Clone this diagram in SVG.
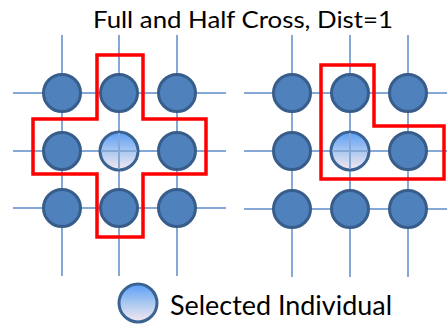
<svg xmlns="http://www.w3.org/2000/svg" width="447" height="325" viewBox="0 0 447 325">
  <defs>
    <linearGradient id="selGrad" x1="0" y1="0" x2="0" y2="1">
      <stop offset="0" stop-color="#5a9df8"/>
      <stop offset="0.5" stop-color="#a9c8f0"/>
      <stop offset="1" stop-color="#f6e8f0"/>
    </linearGradient>
    <circle id="dot" r="18.5" class="dot"/>
  </defs>
  <style>
    .grid { stroke: #86a8d6; stroke-width: 2; fill: none; }
    .dot { fill: #4f81bd; stroke: #385d8a; stroke-width: 3; }
    .sel { fill: url(#selGrad); stroke: #3a6391; stroke-width: 3; }
    .region { fill: none; stroke: #ff0000; stroke-width: 3.5; stroke-linejoin: miter; }
    .label { font-family: Lato, "Open Sans", "Liberation Sans", sans-serif; fill: #000; }
  </style>
  <rect width="447" height="325" fill="#ffffff"/>

  <text class="label" x="93" y="28" font-size="22.5" textLength="300" lengthAdjust="spacingAndGlyphs">Full and Half Cross, Dist=1</text>

  <!-- grid lines -->
  <g id="connectors">
    <path class="grid" d="M62 35V276M119 35V276M177 35V276M13 93H226M13 151H226M13 208H226"/>
    <path class="grid" d="M292 35V277M350 35V277M408 35V277M244 93H447M244 151H447M244 209H447"/>
  </g>

  <!-- left lattice: full cross -->
  <g id="left-grid">
    <g id="L11"><use href="#dot" x="62" y="93"/></g>
    <g id="L12"><use href="#dot" x="119" y="93"/></g>
    <g id="L13"><use href="#dot" x="177" y="93"/></g>
    <g id="L21"><use href="#dot" x="62" y="151"/></g>
    <g id="L22"><circle class="sel" cx="119" cy="151" r="19"/><path class="grid" d="M119 133V169M101 151H137"/></g>
    <g id="L23"><use href="#dot" x="177" y="151"/></g>
    <g id="L31"><use href="#dot" x="62" y="208"/></g>
    <g id="L32"><use href="#dot" x="119" y="208"/></g>
    <g id="L33"><use href="#dot" x="177" y="208"/></g>
  </g>

  <!-- right lattice: half cross -->
  <g id="right-grid">
    <g id="R11"><use href="#dot" x="292" y="93"/></g>
    <g id="R12"><use href="#dot" x="350" y="93"/></g>
    <g id="R13"><use href="#dot" x="408" y="93"/></g>
    <g id="R21"><use href="#dot" x="292" y="151"/></g>
    <g id="R22"><circle class="sel" cx="350" cy="151" r="19"/><path class="grid" d="M350 133V169M332 151H368"/></g>
    <g id="R23"><use href="#dot" x="408" y="151"/></g>
    <g id="R31"><use href="#dot" x="292" y="209"/></g>
    <g id="R32"><use href="#dot" x="350" y="209"/></g>
    <g id="R33"><use href="#dot" x="408" y="209"/></g>
  </g>

  <!-- neighbourhood outlines -->
  <g id="regions">
    <path class="region" d="M97 55H143V119H206V174H143V237H97V174H33V119H97Z"/>
    <path class="region" d="M321 65H374V126H444V179H321Z"/>
  </g>

  <!-- legend -->
  <g id="legend">
    <circle class="sel" cx="138" cy="303" r="19"/>
    <text class="label" x="170" y="315" font-size="26" textLength="222" lengthAdjust="spacingAndGlyphs">Selected Individual</text>
  </g>
</svg>
